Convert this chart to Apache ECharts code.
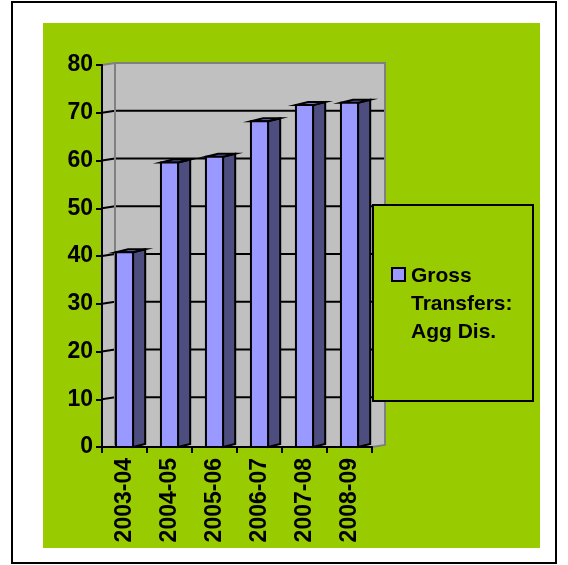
<!DOCTYPE html>
<html>
<head>
<meta charset="utf-8">
<script src="https://cdn.jsdelivr.net/npm/echarts@6/dist/echarts.min.js"></script>
<style>
  html, body { margin: 0; padding: 0; background: #ffffff; }
  #chart { width: 568px; height: 565px; }
</style>
</head>
<body>
<div id="chart"></div>
<script>
// Gross transfers, aggregate disbursements by year
const categories = ['2003-04', '2004-05', '2005-06', '2006-07', '2007-08', '2008-09'];
const grossTransfers = [40.8, 59.6, 60.8, 68.2, 71.6, 72.1];
const seriesName = 'Gross\nTransfers:\nAgg Dis.';
const yMin = 0;
const yMax = 80;
const yStep = 10;

const FONT = '"Liberation Sans", Arial, sans-serif';
const GREEN = '#99CC00';
const WALL = '#C0C0C0';
const WALL_EDGE = '#808080';
const FRONT = '#9999FF';
const SIDE = '#4D4D80';
const TOP = '#7373BF';

// depth offset of the 3D box (back wall vs. front axis plane)
const DEPTH = [13, -2];

const chart = echarts.init(document.getElementById('chart'), null, { renderer: 'canvas' });

function wallsRender(params, api) {
  const bw = api.size([1, 0])[0];
  const n = categories.length;
  const x0 = api.coord([0, yMin])[0] - bw / 2;
  const x1 = api.coord([n - 1, yMin])[0] + bw / 2;
  const yb = api.coord([0, yMin])[1];
  const yt = api.coord([0, yMax])[1];
  const dx = DEPTH[0], dy = DEPTH[1];
  const children = [];
  // side wall
  children.push({ type: 'polygon', shape: { points: [[x0, yt], [x0 + dx, yt + dy], [x0 + dx, yb + dy], [x0, yb]] },
    style: { fill: WALL } });
  // floor
  children.push({ type: 'polygon', shape: { points: [[x0, yb], [x1, yb], [x1 + dx, yb + dy], [x0 + dx, yb + dy]] },
    style: { fill: WALL } });
  // back wall
  children.push({ type: 'rect', shape: { x: x0 + dx, y: yt + dy, width: x1 - x0, height: yb - yt },
    style: { fill: WALL } });
  // gridlines across side and back wall
  for (let v = yMin + yStep; v < yMax; v += yStep) {
    const y = api.coord([0, v])[1];
    children.push({ type: 'polyline', shape: { points: [[x0, y], [x0 + dx, y + dy], [x1 + dx, y + dy]] },
      style: { stroke: '#000', lineWidth: 2, fill: null } });
  }
  // wall edges
  children.push({ type: 'polyline', shape: { points: [[x0, yt], [x0 + dx, yt + dy], [x1 + dx, yt + dy], [x1 + dx, yb + dy], [x1, yb]] },
    style: { stroke: WALL_EDGE, lineWidth: 2, fill: null } });
  children.push({ type: 'line', shape: { x1: x0 + dx, y1: yt + dy, x2: x0 + dx, y2: yb + dy },
    style: { stroke: WALL_EDGE, lineWidth: 2 } });
  return { type: 'group', children: children };
}

function barRender(params, api) {
  const idx = api.value(0);
  const val = api.value(1);
  const top = api.coord([idx, val]);
  const base = api.coord([idx, yMin]);
  const bw = api.size([1, 0])[0];
  const fw = bw * 0.38;
  const dx = bw * 0.27, dy = -3;
  const l = top[0] - fw / 2, r = top[0] + fw / 2;
  const yt = top[1], yb = base[1];
  const stroke = { stroke: '#000', lineWidth: 2, lineJoin: 'miter' };
  return {
    type: 'group',
    children: [
      { type: 'polygon', shape: { points: [[r, yt], [r + dx, yt + dy], [r + dx, yb + dy], [r, yb]] },
        style: Object.assign({ fill: SIDE }, stroke) },
      { type: 'polygon', shape: { points: [[l, yt], [r, yt], [r + dx, yt + dy], [l + dx, yt + dy]] },
        style: Object.assign({ fill: TOP }, stroke) },
      { type: 'rect', shape: { x: l, y: yt, width: fw, height: yb - yt },
        style: Object.assign({ fill: FRONT }, stroke) }
    ]
  };
}

chart.setOption({
  animation: false,
  backgroundColor: '#ffffff',
  textStyle: { fontFamily: FONT },
  graphic: [
    { type: 'rect', z: -10, shape: { x: 12, y: 2, width: 544, height: 561 },
      style: { fill: '#ffffff', stroke: '#000', lineWidth: 2 } },
    { type: 'rect', z: -9, shape: { x: 43, y: 23, width: 497, height: 525 },
      style: { fill: GREEN } },
    // legend box
    { type: 'rect', z: 50, shape: { x: 373, y: 205, width: 160, height: 196 },
      style: { fill: GREEN, stroke: '#000', lineWidth: 2 } },
    { type: 'rect', z: 51, shape: { x: 392, y: 268, width: 13, height: 13 },
      style: { fill: FRONT, stroke: '#000', lineWidth: 2 } },
    { type: 'text', z: 51, x: 411, y: 262,
      style: { text: seriesName, fill: '#000', font: 'bold 21px ' + FONT, lineHeight: 28,
        verticalAlign: 'top', align: 'left' } }
  ],
  grid: { left: 102, right: 196, top: 65, bottom: 118, containLabel: false },
  xAxis: {
    type: 'category',
    data: categories,
    boundaryGap: true,
    axisLine: { show: true, lineStyle: { color: '#000', width: 2 } },
    axisTick: { show: true, alignWithLabel: false, length: 6, lineStyle: { color: '#000', width: 2 } },
    axisLabel: { rotate: 90, margin: 11, color: '#000', fontSize: 23, fontWeight: 'bold', fontFamily: FONT },
    splitLine: { show: false },
    z: 10
  },
  yAxis: {
    type: 'value',
    min: yMin,
    max: yMax,
    interval: yStep,
    axisLine: { show: true, lineStyle: { color: '#000', width: 2 } },
    axisTick: { show: true, length: 6, lineStyle: { color: '#000', width: 2 } },
    axisLabel: { margin: 9, color: '#000', fontSize: 23, fontWeight: 'bold', fontFamily: FONT },
    splitLine: { show: false },
    z: 10
  },
  series: [
    { type: 'custom', name: 'walls', clip: false, z: 1, silent: true,
      renderItem: wallsRender, data: [[0, 0]] },
    { type: 'custom', name: 'Gross Transfers: Agg Dis.', clip: false, z: 5,
      renderItem: barRender,
      encode: { x: 0, y: 1 },
      data: grossTransfers.map(function (v, i) { return [i, v]; }) }
  ]
});
</script>
</body>
</html>
